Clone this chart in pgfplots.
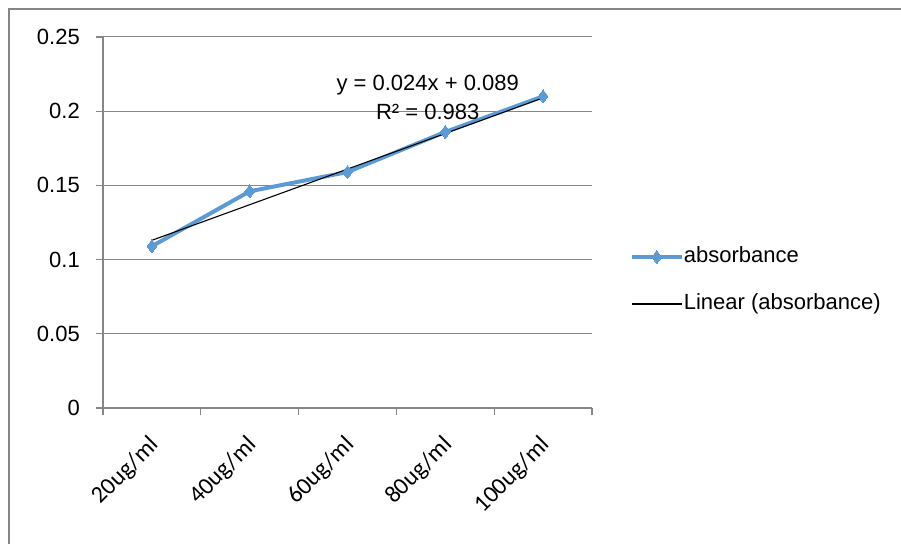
\documentclass[border=0pt]{standalone}
\usepackage{fontspec}
\setmainfont{Liberation Sans}
\newfontfamily\calib{Carlito}
\usepackage{pgfplots}
\pgfplotsset{compat=1.18}
\definecolor{xlblue}{RGB}{91,155,213}
\definecolor{xlgray}{RGB}{134,134,134}

\begin{document}
\begin{tikzpicture}[x=1pt,y=1pt]
\useasboundingbox (0,0) rectangle (901,543);
\draw[xlgray, line width=2pt] (8.5,-10) -- (8.5,533.5) -- (910,533.5);
\begin{axis}[
    at={(103pt,135pt)}, anchor=south west,
    scale only axis, width=489pt, height=371pt,
    xmin=0.5, xmax=5.5, ymin=0, ymax=0.25,
    axis lines*=left,
    axis line style={xlgray, line width=1.3pt},
    tick style={xlgray, line width=1.3pt},
    tick align=outside, major tick length=7pt,
    xtick={0.5,1.5,2.5,3.5,4.5,5.5}, xticklabels={},
    extra x ticks={1,2,3,4,5},
    extra x tick labels={20ug/ml,40ug/ml,60ug/ml,80ug/ml,100ug/ml},
    extra x tick style={grid=none, major tick length=0pt},
    xticklabel style={xshift=-4pt, yshift=-26pt, rotate=45, anchor=north east, inner sep=0pt,
        font=\calib\fontsize{24}{28}\selectfont},
    ytick={0,0.05,0.1,0.15,0.2,0.25},
    yticklabels={0,0.05,0.1,0.15,0.2,0.25},
    yticklabel style={font=\fontsize{22}{26}\selectfont, inner sep=0pt, anchor=east, xshift=-16pt},
    ymajorgrids, grid style={xlgray, line width=1pt},
    clip=false,
    legend style={at={(1.077,0.3437)}, anchor=west, draw=none, fill=none,
        inner sep=0pt, row sep=26pt,
        font=\fontsize{22}{26}\selectfont,
        nodes={text height=16pt, text depth=5pt, inner sep=0pt}},
    legend cell align=left,
    legend image code/.code={\draw[mark repeat=2,mark phase=2,#1] plot coordinates {(0pt,0pt) (25pt,0pt) (50pt,0pt)};},
    /tikz/every even column/.append style={column sep=3pt},
  ]
\addplot[xlblue, line width=4pt, mark=diamond*, mark size=6.5pt, mark options={line width=0pt}]
  coordinates {(1,0.109) (2,0.146) (3,0.159) (4,0.186) (5,0.210)};
\addlegendentry{absorbance}
\addplot[black, line width=1.1pt]
  coordinates {(1,0.113) (2,0.137) (3,0.161) (4,0.185) (5,0.209)};
\addlegendentry{Linear (absorbance)}
\node[align=center, font=\fontsize{22}{29}\selectfont, inner sep=0pt] at (axis cs:3.82,0.2092)
  {y = 0.024x + 0.089\\R² = 0.983};
\end{axis}
\end{tikzpicture}
\end{document}
